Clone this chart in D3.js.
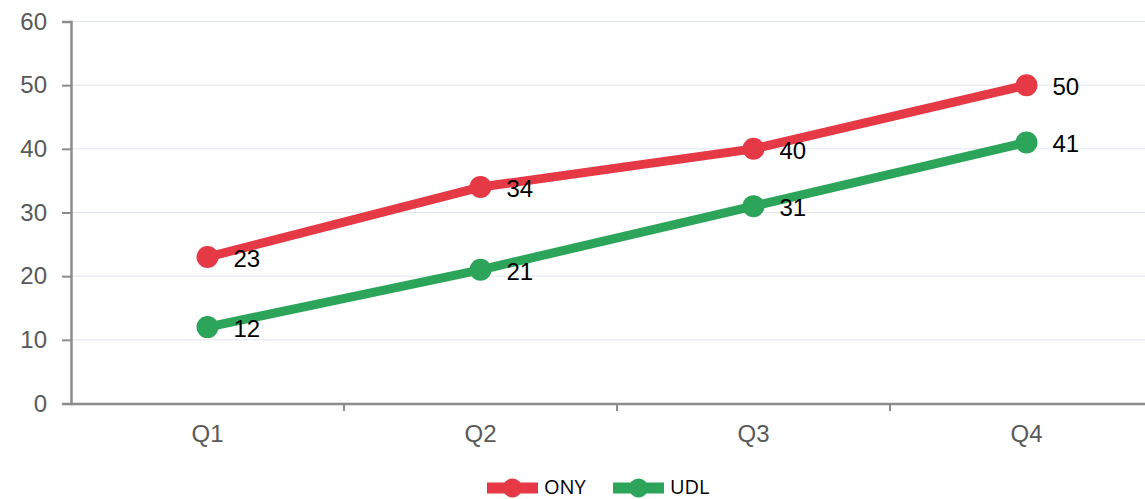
<!DOCTYPE html>
<html><head><meta charset="utf-8">
<script src="https://cdn.jsdelivr.net/npm/d3@7"></script>
<style>body{margin:0;background:#fff}svg{display:block}</style>
</head><body>
<svg id="c" width="1145" height="499"></svg>
<script>
const categories = ["Q1","Q2","Q3","Q4"];
const onyValues = [23,34,40,50];
const udlValues = [12,21,31,41];
const yTicks = [0,10,20,30,40,50,60];
const seriesNames = ["ONY","UDL"];
const seriesColors = ["#e63946","#2ca55a"];

const svg = d3.select("#c");
const x = d3.scaleBand().domain(categories).range([71,1163]);
const y = d3.scaleLinear().domain([0,60]).range([403.5,21.5]);

// grid
svg.append("g").selectAll("line").data(yTicks.filter(d=>d>0)).join("line")
  .attr("x1",72).attr("x2",1145).attr("y1",d=>y(d)).attr("y2",d=>y(d))
  .attr("stroke","#e0e6ee").attr("stroke-width",1);

// y axis
const ya = svg.append("g").attr("transform","translate(71,0)")
  .call(d3.axisLeft(y).tickValues(yTicks).tickSize(9).tickPadding(15));
// x axis
const xa = svg.append("g").attr("transform","translate(0,404)")
  .call(d3.axisBottom(x).tickSize(0).tickPadding(21));
xa.selectAll(".tick line").remove();
const bounds = categories.map(c=>x(c)).concat([x(categories[3])+x.bandwidth()]).slice(1);
xa.selectAll(".bt").data(bounds).join("line").attr("class","bt")
  .attr("x1",d=>d).attr("x2",d=>d).attr("y1",0).attr("y2",7)
  .attr("stroke","#8c8c8c").attr("stroke-width",2);
[ya,xa].forEach(a=>{
  a.select(".domain").attr("stroke","#8c8c8c").attr("stroke-width",2.5);
  a.selectAll(".tick line").attr("stroke","#8c8c8c").attr("stroke-width",2);
  a.selectAll("text").attr("font-family","Liberation Sans, Arial, sans-serif")
    .attr("font-size",24).attr("fill","#595959");
});
xa.select(".domain").attr("d","M71,0H1145");

const series = [onyValues, udlValues];
const line = d3.line().x((d,i)=>x(categories[i])+x.bandwidth()/2).y(d=>y(d));
series.forEach((vals,si)=>{
  const g = svg.append("g");
  g.append("path").datum(vals).attr("d",line).attr("fill","none")
    .attr("stroke",seriesColors[si]).attr("stroke-width",9).attr("stroke-linejoin","round");
  g.selectAll("circle").data(vals).join("circle")
    .attr("cx",(d,i)=>x(categories[i])+x.bandwidth()/2).attr("cy",d=>y(d)).attr("r",11)
    .attr("fill",seriesColors[si]);
  g.selectAll("text").data(vals).join("text")
    .attr("x",(d,i)=>x(categories[i])+x.bandwidth()/2+26).attr("y",d=>y(d)+10)
    .attr("font-family","Liberation Sans, Arial, sans-serif").attr("font-size",24)
    .attr("fill","#000").text(d=>d);
});

// legend
const leg = svg.append("g");
const legX = [487,613];
seriesNames.forEach((n,i)=>{
  const gx = legX[i];
  leg.append("line").attr("x1",gx).attr("x2",gx+51).attr("y1",488).attr("y2",488)
    .attr("stroke",seriesColors[i]).attr("stroke-width",11);
  leg.append("circle").attr("cx",gx+25.5).attr("cy",488).attr("r",9.5).attr("fill",seriesColors[i]);
  leg.append("text").attr("x",gx+57).attr("y",493.5).attr("font-family","Open Sans, sans-serif")
    .attr("font-size",20).attr("fill","#000").text(n);
});
</script>
</body></html>
